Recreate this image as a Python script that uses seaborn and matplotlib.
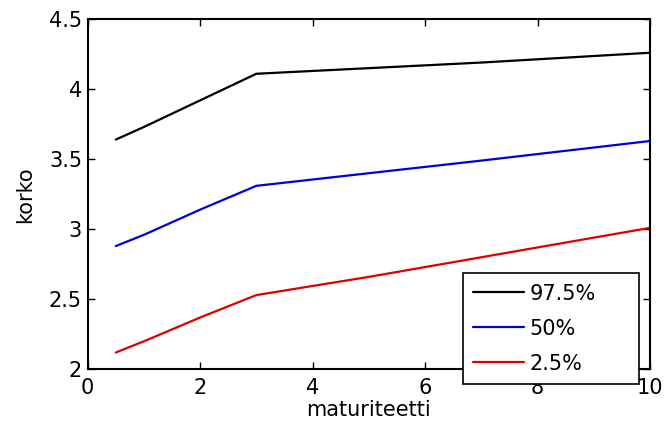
import numpy as np
import pandas as pd
import matplotlib
matplotlib.use("Agg")
import matplotlib.pyplot as plt
import seaborn as sns

# maturiteetit ja korkojen kvantiilit
maturities = [0.5, 1, 2, 3, 5, 7, 10]
q975 = [3.64, 3.73, 3.92, 4.11, 4.15, 4.19, 4.26]
q50 = [2.88, 2.96, 3.14, 3.31, 3.40, 3.49, 3.63]
q025 = [2.12, 2.20, 2.37, 2.53, 2.66, 2.80, 3.01]
labels = ["97.5%", "50%", "2.5%"]
colors = ["black", "#0000d8", "#dd0000"]

df = pd.DataFrame({
    "maturiteetti": maturities * 3,
    "korko": q975 + q50 + q025,
    "kvantiili": [labels[0]] * 7 + [labels[1]] * 7 + [labels[2]] * 7,
})

sns.set_style("white", {"text.color": "black", "axes.labelcolor": "black",
                        "xtick.color": "black", "ytick.color": "black"})
plt.rcParams["font.family"] = ["DejaVu Sans"]

fig = plt.figure(figsize=(6.64, 4.25), dpi=100)
ax = fig.add_axes([0.132, 0.131, 0.847, 0.824])

sns.lineplot(data=df, x="maturiteetti", y="korko", hue="kvantiili",
             hue_order=labels, palette=colors, linewidth=1.6, ax=ax)

ax.set_xlim(0, 10)
ax.set_ylim(2, 4.5)
ax.set_xticks([0, 2, 4, 6, 8, 10])
ax.set_yticks([2, 2.5, 3, 3.5, 4, 4.5])
ax.set_yticklabels(["2", "2.5", "3", "3.5", "4", "4.5"])
ax.tick_params(direction="in", length=5, width=1, labelsize=15, pad=4,
               top=True, right=True, bottom=True, left=True, colors="black")
ax.tick_params(axis="x", pad=6)
for s in ax.spines.values():
    s.set_visible(True)
    s.set_color("black")
    s.set_linewidth(1.5)
ax.set_xlabel("maturiteetti", fontsize=15, labelpad=2)
ax.set_ylabel("korko", fontsize=15, labelpad=10)

# legenda levenee oikealle kuten matlabissa
leg = ax.legend(loc="lower left", bbox_to_anchor=(0.667, -0.042, 0.313, 0.33),
                mode="expand", fontsize=15, frameon=True, fancybox=False,
                handlelength=2.45, handletextpad=0.25, borderpad=0.5,
                labelspacing=0.72, borderaxespad=0)
leg.get_frame().set_edgecolor("black")
leg.get_frame().set_linewidth(1.2)
leg.get_frame().set_alpha(1)
leg.set_zorder(5)

fig.savefig("out.png", dpi=100)
